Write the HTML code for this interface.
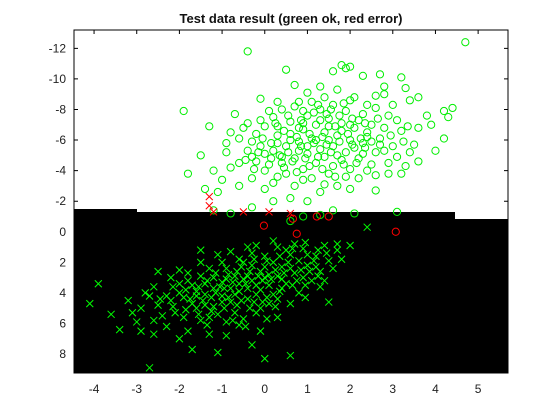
<!DOCTYPE html>
<html><head><meta charset="utf-8"><style>
html,body{margin:0;padding:0;background:#fff;}
svg{display:block;font-family:"Liberation Sans","DejaVu Sans",sans-serif;}
</style></head><body>
<svg id="chart" width="560" height="420" viewBox="0 0 560 420">
<text x="291" y="23" text-anchor="middle" font-size="13" font-weight="bold" fill="#111">Test data result (green ok, red error)</text>
</svg>
<script>
const xTicks=[-4,-3,-2,-1,0,1,2,3,4,5];
const yTicks=[-12,-10,-8,-6,-4,-2,0,2,4,6,8];
const okCircles=[[-0.4,-11.8],[4.7,-12.4],[0.5,-10.6],[0.7,-9.6],[2.3,-10.2],[1.8,-10.9],[1.9,-10.7],[1.6,-10.5],[2.0,-10.8],[2.7,-10.3],[3.2,-10.1],[3.3,-9.4],[2.8,-9.0],[4.4,-8.1],[4.2,-7.9],[3.4,-8.6],[1.0,-9.1],[-0.1,-8.7],[-1.9,-7.9],[-0.8,-6.5],[-1.3,-6.9],[-1.5,-5.0],[-1.8,-3.8],[-1.1,-2.6],[-1.4,-2.8],[-0.6,-3.0],[-0.6,-4.5],[-0.9,-5.2],[-0.3,-4.9],[0.1,-4.4],[0.0,-2.8],[0.3,-3.6],[0.6,-2.2],[1.0,-2.0],[0.7,-3.0],[1.4,-3.1],[1.7,-3.0],[2.2,-3.5],[2.6,-3.7],[2.9,-3.8],[3.2,-3.8],[3.6,-4.6],[4.0,-5.3],[4.2,-6.1],[3.9,-7.0],[3.6,-6.8],[3.2,-6.6],[3.5,-5.7],[2.9,-7.6],[2.6,-8.1],[2.3,-7.7],[2.1,-8.8],[1.7,-9.3],[1.3,-9.5],[0.8,-8.5],[0.4,-8.0],[0.2,-7.5],[-0.4,-7.1],[-0.6,-6.1],[-0.9,-5.8],[-0.7,-7.7],[0.0,-6.9],[0.3,-6.3],[0.6,-7.2],[0.9,-6.7],[1.2,-7.0],[1.5,-7.4],[1.8,-7.1],[2.1,-6.8],[2.4,-6.5],[2.7,-6.1],[3.0,-5.6],[2.6,-5.2],[2.3,-5.8],[2.0,-6.0],[1.7,-6.3],[1.4,-6.5],[1.1,-6.1],[0.8,-5.9],[0.5,-5.6],[0.2,-5.3],[-0.1,-5.6],[-0.4,-5.3],[0.0,-4.0],[0.4,-4.5],[0.7,-4.8],[1.0,-5.1],[1.3,-5.4],[1.6,-5.6],[1.9,-5.2],[2.2,-4.8],[2.5,-4.4],[2.0,-4.1],[1.6,-4.3],[1.2,-4.5],[0.9,-4.1],[0.5,-3.8],[1.1,-3.5],[1.5,-3.8],[1.9,-3.6],[2.4,-4.0],[0.3,-6.9],[0.6,-6.4],[1.0,-7.6],[1.3,-8.0],[1.6,-8.3],[1.9,-7.9],[2.2,-7.3],[2.5,-7.0],[2.8,-6.8],[3.1,-7.3],[1.4,-8.8],[1.1,-8.5],[0.7,-8.2],[2.0,-8.6],[2.6,-8.9],[3.0,-8.3],[0.1,-7.9],[-0.2,-6.4],[-0.5,-6.8],[-0.3,-5.9],[0.0,-5.1],[0.4,-4.9],[0.8,-5.3],[1.2,-6.0],[1.5,-6.9],[1.8,-6.6],[2.1,-5.5],[2.5,-5.9],[2.8,-5.3],[3.1,-4.9],[3.4,-5.2],[0.6,-6.0],[0.9,-7.1],[1.3,-7.3],[1.7,-5.0],[2.3,-5.1],[0.3,-5.8],[-0.2,-4.6],[-0.8,-4.2],[-1.2,-4.0],[-1.0,-3.4],[-0.3,-3.5],[0.2,-3.2],[0.9,-3.4],[1.3,-2.6],[2.0,-2.8],[2.6,-2.7],[1.6,-1.4],[0.2,-2.0],[-0.3,-1.6],[-0.8,-1.2],[3.1,-1.3],[2.1,-1.2],[0.9,-1.0],[1.3,-1.1],[-1.2,-1.4],[0.6,-0.7],[2.8,-9.5],[3.6,-8.8],[3.8,-7.6],[4.3,-7.5],[2.9,-4.5],[3.3,-4.3],[1.8,-4.7],[1.4,-4.9],[0.8,-6.8],[2.4,-6.2],[1.0,-5.6],[1.5,-6.0],[2.0,-7.0],
[0.45,-6.6],[0.75,-6.2],[1.05,-6.4],[1.35,-6.2],[1.65,-6.9],[1.95,-6.4],[2.25,-6.1],[0.55,-5.2],[0.85,-5.6],[1.15,-5.8],[1.45,-5.7],[1.75,-5.9],[2.05,-5.7],[2.35,-5.5],[0.35,-5.0],[0.65,-4.6],[0.95,-4.8],[1.25,-4.9],[1.55,-5.2],[1.85,-4.4],[2.15,-4.5],[-0.15,-5.2],[0.15,-4.8],[0.45,-4.2],[0.75,-3.9],[1.05,-4.3],[1.35,-4.1],[1.65,-3.6],[0.25,-7.1],[0.55,-7.6],[0.85,-7.3],[1.15,-7.8],[1.45,-7.7],[1.75,-7.6],[2.05,-7.4],[2.35,-7.1],[2.65,-7.4],[-0.05,-6.1],[0.15,-5.8],[-0.45,-4.7],[-0.25,-4.1],[2.7,-5.7],[2.95,-6.3],[3.25,-5.9],[3.35,-6.9],[1.25,-8.3],[1.55,-8.0],[1.85,-8.4],[2.4,-8.3],[0.9,-7.9],[-0.1,-7.3],[0.3,-8.5]];
const errCircles=[[-0.02,-0.4],[0.66,-0.85],[0.75,0.13],[1.22,-1.0],[1.5,-1.0],[3.07,0.0]];
const errCrosses=[[-1.3,-2.3],[-1.3,-1.7],[-1.2,-1.3],[-0.5,-1.3],[0.1,-1.3],[0.6,-1.2]];
const okCrosses=[[-4.1,4.7],[-3.9,3.4],[-3.4,6.4],[-2.7,8.9],[-1.1,7.9],[-0.3,7.4],[0.0,8.3],[0.6,8.1],[1.5,4.6],[2.4,-0.3],[1.7,0.8],[-3.2,4.5],[-3.0,5.9],[-2.8,4.0],[-2.6,3.6],[-2.5,4.8],[-2.3,6.2],[-2.2,3.0],[-2.1,5.3],[-2.0,2.5],[-1.9,4.3],[-1.8,6.5],[-1.7,3.5],[-1.6,5.0],[-1.5,2.0],[-1.4,4.1],[-1.3,5.6],[-1.2,3.0],[-1.1,1.5],[-1.0,4.6],[-0.9,2.4],[-0.8,3.7],[-0.7,5.3],[-0.6,1.8],[-0.5,3.1],[-0.4,4.4],[-0.3,2.2],[-0.2,3.5],[-0.1,5.0],[0.0,1.6],[0.1,2.8],[0.2,4.1],[0.3,1.0],[0.4,2.3],[0.5,3.4],[0.6,1.5],[0.7,2.7],[0.8,4.0],[0.9,1.1],[1.0,2.2],[1.1,3.2],[1.2,1.6],[1.3,2.6],[1.4,0.9],[1.5,1.9],[-2.4,5.5],[-2.0,4.0],[-1.8,3.2],[-1.6,4.2],[-1.4,3.4],[-1.2,4.9],[-1.0,3.3],[-0.8,4.6],[-0.6,3.9],[-0.4,2.9],[-0.2,4.1],[0.0,3.0],[0.2,2.0],[0.4,3.7],[0.6,2.4],[0.8,1.9],[1.0,1.5],[-1.5,5.8],[-1.1,5.4],[-0.9,5.9],[-0.5,5.7],[-0.2,5.3],[0.1,4.7],[0.3,4.4],[-2.9,5.0],[-2.6,5.8],[-2.2,4.5],[-1.9,5.6],[-1.7,4.7],[-1.3,2.4],[-1.0,2.0],[-0.7,2.9],[-0.5,2.0],[-0.3,1.4],[0.0,2.3],[0.3,2.9],[0.5,1.2],[0.7,0.8],[0.9,3.0],[1.2,2.3],[-1.6,3.9],[-1.2,3.7],[-0.9,3.1],[-0.6,3.4],[-0.3,3.2],[-0.1,2.6],[0.1,3.5],[0.4,3.1],[-1.4,4.8],[-1.0,4.2],[-0.7,4.1],[-0.4,3.7],[-0.1,3.8],[-2.0,3.4],[-2.3,4.2],[-1.8,2.7],[-1.5,2.9],[-0.8,1.3],[-0.4,1.0],[0.2,0.6],[1.7,1.2],[1.3,3.6],[0.6,4.7],[-0.6,6.1],[-1.3,6.7],[-2.0,7.0],[-1.7,7.7],[0.3,5.6],[-3.6,5.4],[-2.9,6.5],[-0.1,6.5],[-0.9,6.8],[1.6,2.4],[1.8,1.8],[2.0,0.9],[-0.2,0.9],[-1.5,1.2],[-2.5,2.6],
[-1.85,3.8],[-1.55,3.6],[-1.25,4.3],[-0.95,3.7],[-0.65,2.6],[-0.35,2.6],[-0.05,3.2],[0.25,2.5],[0.55,2.0],[0.85,2.5],[1.15,1.9],[1.45,1.4],[-1.75,4.4],[-1.45,4.5],[-1.15,4.0],[-0.85,4.3],[-0.55,4.5],[-0.25,4.6],[0.05,4.3],[0.35,3.9],[0.65,3.5],[0.95,3.5],[1.25,2.9],[-2.15,4.9],[-1.85,5.1],[-1.55,5.4],[-1.25,5.2],[-0.95,5.0],[-0.65,4.8],[-0.35,5.0],[-0.05,4.6],[0.25,4.9],[-2.45,4.4],[-2.15,3.6],[-1.15,2.7],[-0.85,2.8],[-0.55,2.3],[-0.25,1.8],[0.05,1.9],[0.35,1.6],[0.65,1.1],[0.95,0.7],[1.25,1.2],[-0.75,3.3],[-0.45,3.4],[-0.15,2.9],[0.15,3.1],[0.45,2.7],[0.75,3.2],[1.05,2.6],[-1.35,3.2],[-1.05,3.6],[-1.35,6.1],[-0.75,5.8],[-0.45,6.2],[0.05,5.7],[-2.6,6.7],[-3.1,5.3],[-2.7,4.2],[1.4,3.2],[0.95,4.3]];

const L=74,R=508,T=30,B=373;
const X0=-4.47,X1=5.70,Y0=-13.2,Y1=9.24;
function sx(v){return L+(v-X0)/(X1-X0)*(R-L);}
function sy(v){return T+(v-Y0)/(Y1-Y0)*(B-T);}
const NS='http://www.w3.org/2000/svg';
const svg=document.getElementById('chart');
function mk(tag,attrs,parent){const e=document.createElementNS(NS,tag);for(const k in attrs)e.setAttribute(k,attrs[k]);(parent||svg).appendChild(e);return e;}

const region=mk('path',{d:`M${L},${B} L${L},209 L137,209 L137,212 L455,212 L455,219 L${R},219 L${R},${B} Z`,fill:'#000'});



const gPts=mk('g',{});


function circle(p,col,name){
  const c=mk('circle',{cx:sx(p[0]),cy:sy(p[1]),r:3.6,fill:'none',stroke:col,'stroke-width':1},gPts);
  
  
}
function cross(p,col,name){
  const x=sx(p[0]),y=sy(p[1]),d=3.5;
  const c=mk('path',{d:`M${x-d},${y-d}L${x+d},${y+d}M${x-d},${y+d}L${x+d},${y-d}`,stroke:col,'stroke-width':1,fill:'none'},gPts);
  
  
}
okCrosses.forEach(p=>cross(p,'#00ff00','ok-cross-point'));
okCircles.forEach(p=>circle(p,'#00ee00','ok-circle-point'));
errCircles.forEach(p=>circle(p,'#ff0000','error-circle-point'));
errCrosses.forEach(p=>cross(p,'#ff0000','error-cross-point'));

const box=mk('rect',{x:L,y:T,width:R-L,height:B-T,fill:'none',stroke:'#000','stroke-width':1});


xTicks.forEach(t=>{
  const x=sx(t);
  mk('path',{d:`M${x},${B}V${B-4}M${x},${T}V${T+4}`,stroke:'#000'});
  const tx=mk('text',{x:x,y:B+20,'text-anchor':'middle','font-size':12,fill:'#222'});
  tx.textContent=t;
  
  
});
yTicks.forEach(t=>{
  const y=sy(t);
  mk('path',{d:`M${L},${y}H${L+4}M${R},${y}H${R-4}`,stroke:'#000'});
  const tx=mk('text',{x:L-8,y:y+4,'text-anchor':'end','font-size':12,fill:'#222'});
  tx.textContent=t;
  
  
});
</script>
</body></html>
